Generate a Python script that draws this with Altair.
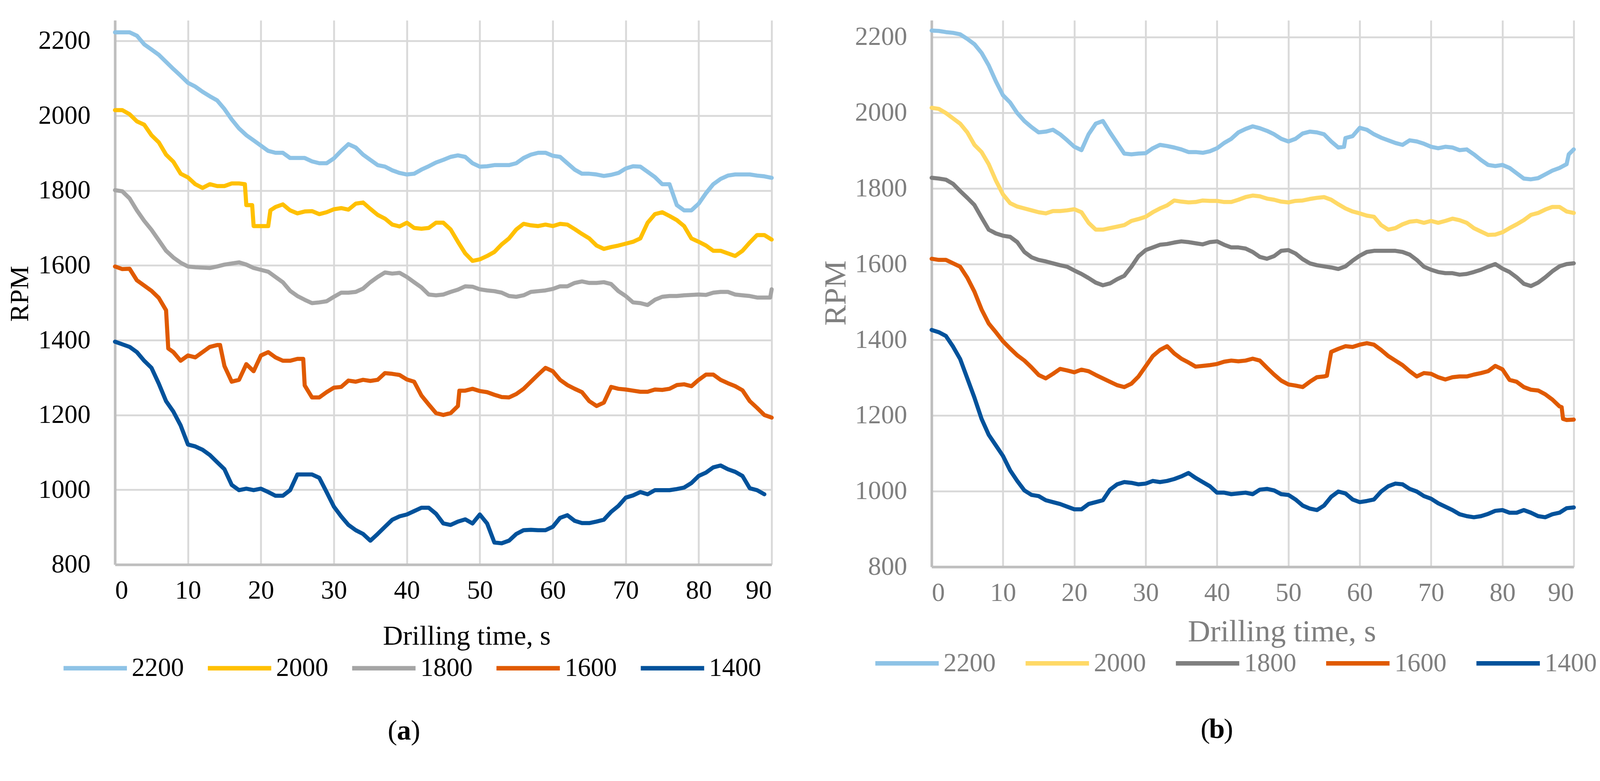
import altair as alt
import pandas as pd

# ---------------- data ----------------
TIME = list(range(91))  # seconds 0..90
SERIES = ["2200", "2000", "1800", "1600", "1400"]

# panel (a)
A_2200 = [2223, 2223, 2223, 2214, 2191, 2177, 2163, 2144, 2125, 2107,
          2088, 2078, 2064, 2052, 2041, 2018, 1990, 1966, 1948, 1934,
          1920, 1906, 1901, 1901, 1887, 1887, 1887, 1878, 1873, 1873,
          1886, 1906, 1924, 1915, 1896, 1882, 1868, 1864, 1854, 1847,
          1843, 1845, 1856, 1865, 1875, 1882, 1890, 1894, 1890, 1873,
          1864, 1865, 1868, 1868, 1868, 1873, 1887, 1896, 1901, 1901,
          1893, 1890, 1873, 1856, 1845, 1845, 1843, 1839, 1842, 1847,
          1859, 1865, 1864, 1850, 1836, 1817, 1817, 1761, 1747, 1747,
          1765, 1793, 1817, 1831, 1840, 1843, 1843, 1843, 1840, 1838, 1834]
A_2000 = [2015, 2015, 2004, 1985, 1976, 1948, 1929, 1896, 1877, 1845,
          1835, 1817, 1807, 1817, 1812, 1812, 1819, 1819, 1761, 1705,
          1705, 1705, 1756, 1763, 1747, 1739, 1744, 1745, 1737, 1742,
          1750, 1753, 1749, 1765, 1768, 1751, 1735, 1725, 1709, 1704,
          1714, 1700, 1698, 1700, 1714, 1714, 1696, 1663, 1632, 1612,
          1616, 1625, 1636, 1656, 1672, 1696, 1711, 1707, 1705, 1709,
          1705, 1711, 1709, 1697, 1684, 1672, 1653, 1644, 1649, 1653,
          1658, 1663, 1672, 1714, 1737, 1742, 1732, 1721, 1705, 1672,
          1663, 1653, 1639, 1639, 1632, 1625, 1639, 1661, 1681, 1681, 1669]
A_1800 = [1801, 1798, 1779, 1747, 1719, 1695, 1667, 1639, 1621, 1607,
          1597, 1595, 1594, 1593, 1597, 1602, 1605, 1608, 1602, 1593,
          1588, 1583, 1569, 1555, 1532, 1518, 1508, 1499, 1501, 1504,
          1516, 1527, 1527, 1529, 1538, 1555, 1569, 1581, 1578, 1580,
          1569, 1555, 1541, 1522, 1520, 1522, 1529, 1535, 1544, 1543,
          1536, 1533, 1531, 1527, 1518, 1516, 1520, 1529, 1531, 1533,
          1537, 1544, 1544, 1553, 1557, 1553, 1553, 1555, 1550, 1531,
          1518, 1501, 1499, 1494, 1508, 1516, 1518, 1518, 1520, 1521,
          1522, 1521, 1527, 1529, 1529, 1522, 1520, 1518, 1514, 1514, 1536]
A_1600 = [1597, 1590, 1591, 1560, 1546, 1532, 1513, 1480, 1368, 1345,
          1359, 1354, 1368, 1382, 1387, 1331, 1289, 1294, 1336, 1317,
          1359, 1368, 1354, 1345, 1345, 1350, 1279, 1247, 1247, 1261,
          1273, 1275, 1292, 1289, 1294, 1291, 1294, 1312, 1310, 1307,
          1295, 1289, 1252, 1228, 1205, 1200, 1205, 1224, 1265, 1270,
          1264, 1261, 1254, 1248, 1247, 1256, 1270, 1289, 1308, 1326,
          1317, 1294, 1280, 1270, 1261, 1237, 1224, 1233, 1275, 1270,
          1268, 1265, 1262, 1262, 1268, 1267, 1270, 1280, 1282, 1277,
          1294, 1308, 1308, 1294, 1285, 1277, 1266, 1237, 1219, 1200, 1193]
A_1400 = [1396, 1389, 1382, 1368, 1345, 1326, 1284, 1237, 1209, 1172,
          1121, 1116, 1107, 1093, 1074, 1055, 1013, 999, 1003, 999,
          1003, 994, 984, 984, 999, 1041, 1041, 1041, 1032, 994,
          955, 929, 906, 892, 882, 864, 882, 901, 920, 929,
          934, 943, 952, 952, 936, 910, 906, 915, 921, 910,
          934, 910, 859, 857, 864, 882, 892, 893, 892, 892,
          901, 925, 932, 917, 911, 911, 915, 920, 941, 957,
          979, 985, 994, 988, 999, 999, 999, 1002, 1006, 1018,
          1037, 1046, 1060, 1065, 1055, 1048, 1037, 1004, 999, 988]
# sharp steps between whole seconds: (time, rpm)
A_STEPS_2000 = [(17.8, 1817), (18.8, 1761), (21.3, 1747)]
A_STEPS_1800 = [(89.8, 1514)]
A_STEPS_1600 = [(7.3, 1378), (14.4, 1387), (25.8, 1350), (47.2, 1265)]

# panel (b)
B_2200 = [2217, 2216, 2213, 2211, 2207, 2195, 2181, 2158, 2125, 2083,
          2046, 2027, 1999, 1978, 1962, 1948, 1950, 1955, 1943, 1927,
          1910, 1901, 1943, 1971, 1978, 1948, 1920, 1892, 1890, 1892,
          1893, 1906, 1915, 1912, 1908, 1903, 1896, 1896, 1894, 1898,
          1906, 1920, 1931, 1948, 1957, 1964, 1959, 1952, 1943, 1931,
          1924, 1931, 1945, 1950, 1948, 1943, 1924, 1908, 1933, 1938,
          1960, 1955, 1943, 1934, 1927, 1920, 1915, 1927, 1924, 1918,
          1910, 1906, 1910, 1908, 1901, 1903, 1890, 1875, 1862, 1859,
          1862, 1854, 1840, 1826, 1824, 1827, 1837, 1847, 1854, 1864, 1903]
B_2000 = [2013, 2010, 1999, 1985, 1971, 1948, 1915, 1896, 1864, 1821,
          1784, 1761, 1752, 1747, 1742, 1737, 1734, 1740, 1740, 1742,
          1745, 1737, 1709, 1691, 1691, 1695, 1699, 1703, 1714, 1719,
          1725, 1737, 1747, 1755, 1768, 1765, 1763, 1764, 1768, 1767,
          1767, 1764, 1764, 1770, 1777, 1781, 1779, 1773, 1770, 1765,
          1763, 1767, 1768, 1772, 1775, 1777, 1770, 1758, 1747, 1739,
          1734, 1728, 1725, 1703, 1691, 1695, 1705, 1712, 1714, 1709,
          1714, 1709, 1714, 1720, 1716, 1709, 1695, 1686, 1677, 1678,
          1684, 1695, 1705, 1716, 1730, 1735, 1744, 1751, 1751, 1739, 1735]
B_1800 = [1828, 1826, 1823, 1812, 1793, 1775, 1756, 1723, 1691, 1681,
          1675, 1672, 1658, 1632, 1618, 1611, 1607, 1602, 1597, 1593,
          1583, 1574, 1563, 1551, 1544, 1549, 1560, 1569, 1593, 1621,
          1637, 1644, 1651, 1653, 1657, 1660, 1658, 1655, 1652, 1658,
          1660, 1651, 1644, 1644, 1641, 1632, 1619, 1614, 1621, 1635,
          1637, 1628, 1613, 1602, 1597, 1594, 1591, 1587, 1594, 1609,
          1622, 1632, 1635, 1635, 1635, 1635, 1632, 1625, 1611, 1593,
          1585, 1579, 1576, 1576, 1572, 1574, 1579, 1585, 1593, 1600,
          1588, 1579, 1565, 1548, 1542, 1551, 1565, 1581, 1594, 1600, 1602]
B_1600 = [1614, 1611, 1611, 1602, 1593, 1564, 1527, 1480, 1443, 1420,
          1396, 1377, 1359, 1345, 1327, 1307, 1298, 1310, 1323, 1319,
          1314, 1321, 1317, 1307, 1298, 1289, 1280, 1275, 1284, 1303,
          1330, 1357, 1373, 1383, 1364, 1350, 1340, 1329, 1331, 1333,
          1336, 1342, 1345, 1343, 1345, 1350, 1345, 1326, 1308, 1292,
          1282, 1279, 1275, 1289, 1301, 1303, 1368, 1376, 1383, 1381,
          1387, 1391, 1387, 1373, 1357, 1345, 1333, 1317, 1303, 1312,
          1310, 1301, 1295, 1301, 1303, 1303, 1308, 1312, 1317, 1331,
          1322, 1294, 1289, 1275, 1268, 1266, 1256, 1242, 1224, 1188, 1189]
B_1400 = [1426, 1420, 1410, 1382, 1349, 1298, 1247, 1191, 1149, 1121,
          1093, 1055, 1027, 1002, 990, 987, 976, 971, 966, 959,
          952, 952, 966, 971, 976, 1004, 1018, 1024, 1022, 1018,
          1020, 1027, 1024, 1027, 1032, 1039, 1048, 1035, 1024, 1013,
          996, 996, 992, 994, 996, 992, 1004, 1006, 1002, 992,
          990, 978, 962, 954, 950, 962, 985, 999, 994, 978,
          971, 974, 978, 999, 1013, 1020, 1018, 1006, 999, 987,
          980, 968, 959, 950, 939, 934, 931, 934, 940, 948,
          950, 943, 943, 950, 943, 934, 931, 939, 943, 955, 957]
B_STEPS_2200 = [(57.8, 1910), (89.3, 1890)]
B_STEPS_1600 = [(55.4, 1305), (88.3, 1222), (88.5, 1191)]

COLORS_A = ["#8EC3E6", "#FFC000", "#A5A5A5", "#E05A00", "#01529B"]
COLORS_B = ["#8EC3E6", "#FFD966", "#7F7F7F", "#E05A00", "#01529B"]


def build_frame(series_values, steps):
    rows = []
    for name, vals in zip(SERIES, series_values):
        for t, v in zip(TIME, vals):
            rows.append({"t": t, "rpm": v, "s": name})
        for t, v in steps.get(name, []):
            rows.append({"t": t, "rpm": v, "s": name})
    return pd.DataFrame(rows).sort_values(["s", "t"]).reset_index(drop=True)


df_a = build_frame([A_2200, A_2000, A_1800, A_1600, A_1400],
                   {"2000": A_STEPS_2000, "1800": A_STEPS_1800, "1600": A_STEPS_1600})
df_b = build_frame([B_2200, B_2000, B_1800, B_1600, B_1400],
                   {"2200": B_STEPS_2200, "1600": B_STEPS_1600})

FONT = "Liberation Serif"
GRID = "#D9D9D9"
AXISLINE = "#BFBFBF"


def panel(df, colors, text_color, w, h, ymax, ytitle_size, xtitle_size,
          y_title_x, y_title_y, x_title_x, x_title_y,
          legend_x, legend_y, col_pad, caption_letter, cap_x, cap_y):
    x_axis = alt.Axis(values=list(range(0, 91, 10)), grid=True, gridColor=GRID,
                      gridWidth=5, domainColor=AXISLINE, domainWidth=7,
                      ticks=False, tickSize=0, labelFont=FONT, labelFontSize=70,
                      labelColor=text_color, labelPadding=70, labelBaseline="middle",
                      title="Drilling time, s", titleFont=FONT,
                      titleFontSize=xtitle_size, titleFontWeight="normal",
                      titleColor=text_color, titleX=x_title_x, titleY=x_title_y,
                      titleBaseline="middle", titleAlign="center")
    y_axis = alt.Axis(values=[800, 1000, 1200, 1400, 1600, 1800, 2000, 2200],
                      format="d",
                      grid=True, gridColor=GRID, gridWidth=5,
                      domainColor=AXISLINE, domainWidth=7, ticks=False, tickSize=0,
                      labelFont=FONT, labelFontSize=70, labelColor=text_color,
                      labelPadding=66, labelBaseline="middle",
                      title="RPM", titleFont=FONT, titleFontSize=ytitle_size,
                      titleFontWeight="normal", titleColor=text_color,
                      titleX=y_title_x, titleY=y_title_y, titleAngle=270,
                      titleBaseline="middle", titleAlign="center")
    legend = alt.Legend(title=None, orient="none", direction="horizontal",
                        legendX=legend_x, legendY=legend_y,
                        symbolType="stroke", symbolSize=28900, symbolStrokeWidth=12,
                        labelFont=FONT, labelFontSize=70, labelColor=text_color,
                        labelOffset=7, columnPadding=col_pad)
    lines = alt.Chart(df).mark_line(strokeWidth=11, strokeJoin="round",
                                    strokeCap="round").encode(
        x=alt.X("t:Q", scale=alt.Scale(domain=[0, 90], nice=False), axis=x_axis),
        y=alt.Y("rpm:Q", scale=alt.Scale(domain=[800, ymax], nice=False, zero=False),
                axis=y_axis),
        color=alt.Color("s:N", scale=alt.Scale(domain=SERIES, range=colors),
                        legend=legend),
        order=alt.Order("t:Q"),
    )
    one = pd.DataFrame({"c": [0]})
    cap_open = alt.Chart(one).mark_text(text="(", font=FONT, fontSize=76, color="black",
                                        align="center", baseline="middle").encode(
        x=alt.value(cap_x - 31), y=alt.value(cap_y))
    cap_mid = alt.Chart(one).mark_text(text=caption_letter, font=FONT, fontSize=76,
                                       fontWeight="bold", color="black",
                                       align="center", baseline="middle").encode(
        x=alt.value(cap_x), y=alt.value(cap_y))
    cap_close = alt.Chart(one).mark_text(text=")", font=FONT, fontSize=76, color="black",
                                         align="center", baseline="middle").encode(
        x=alt.value(cap_x + 31), y=alt.value(cap_y))
    return alt.layer(lines, cap_open, cap_mid, cap_close).properties(width=w, height=h)


pa = panel(df_a, COLORS_A, "black", 1761, 1460, 2255, 71, 74,
           -254, 733, 943, 192, -144, 1647, 40, "a", 775, 1906)
pb = panel(df_b, COLORS_B, "#7F7F7F", 1722, 1466, 2244, 83, 83,
           -257, 731, 939, 174, -157, 1634, 56, "b", 765, 1902)

chart = alt.hconcat(pa, pb, spacing=429, bounds="flush").resolve_scale(
    color="independent", x="independent", y="independent"
).resolve_legend(color="independent").properties(
    padding={"left": 10, "top": 0, "right": 0, "bottom": 0},
    background="white",
).configure_view(stroke=None)

chart.save("out.html", embed_options={"renderer": "svg", "actions": False})
